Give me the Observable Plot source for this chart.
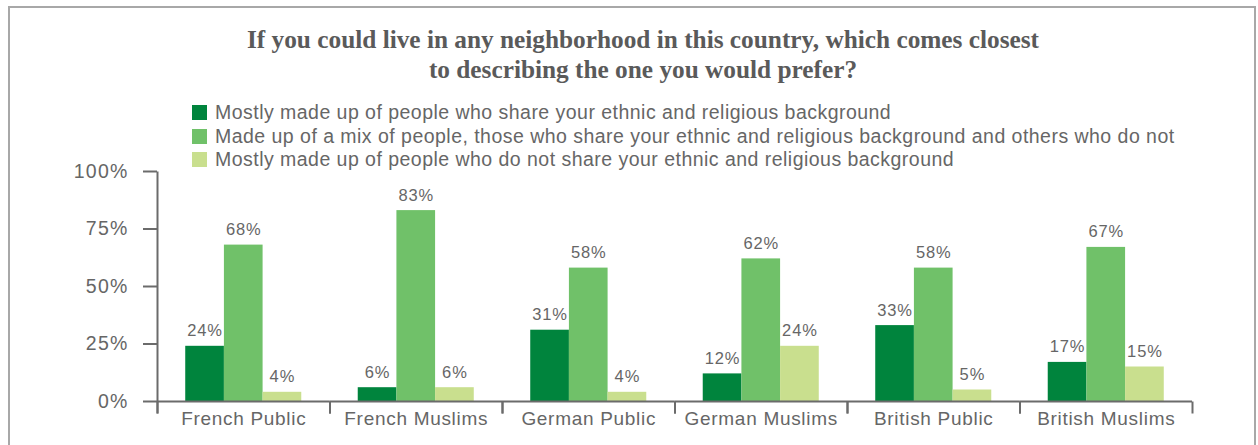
<!DOCTYPE html>
<html><head><meta charset="utf-8">
<script src="https://cdn.jsdelivr.net/npm/d3@7"></script>
<script src="https://cdn.jsdelivr.net/npm/@observablehq/plot@0.6"></script>
<style>
html,body{margin:0;padding:0;background:#fff;overflow:hidden;width:1258px;height:445px;position:relative;}
#frame{position:absolute;left:8px;top:6px;width:1244px;height:470px;border:2px solid #a8a8a8;}
#title{position:absolute;left:0;top:24px;width:1286px;text-align:center;font-family:"Liberation Serif",serif;font-weight:bold;font-size:25.3px;line-height:30px;color:#5a5a5a;}
#legend{position:absolute;left:192px;top:101px;font-family:"Liberation Sans",Arial,sans-serif;font-size:19.5px;color:#666;letter-spacing:0.47px;}
.row{display:flex;align-items:center;height:23.5px;white-space:nowrap;}
.sw{width:15px;height:15px;margin-right:8px;flex:none;}
#chart{position:absolute;left:0;top:150px;}
#chart g[aria-label="y-axis tick label"] text{letter-spacing:1.2px;}
#chart g[aria-label="fx-axis tick label"] text{letter-spacing:0.7px;}
#chart g[aria-label="text"] text{letter-spacing:0.9px;}
</style></head><body>
<div id="frame"></div>
<div id="title">If you could live in any neighborhood in this country, which comes closest<br>to describing the one you would prefer?</div>
<div id="legend"></div>
<div id="chart"></div>
<script>
const categories = ["French Public", "French Muslims", "German Public", "German Muslims", "British Public", "British Muslims"];
const seriesNames = [
  "Mostly made up of people who share your ethnic and religious background",
  "Made up of a mix of people, those who share your ethnic and religious background and others who do not",
  "Mostly made up of people who do not share your ethnic and religious background"
];
const sameBackground = [24, 6, 31, 12, 33, 17];
const mixedBackground = [68, 83, 58, 62, 58, 67];
const otherBackground = [4, 6, 4, 24, 5, 15];
const seriesColors = ["#00843d", "#70c169", "#c9df8e"];
const yTicks = [0, 25, 50, 75, 100];

const seriesValues = [sameBackground, mixedBackground, otherBackground];
const rows = [];
categories.forEach((c, ci) => seriesNames.forEach((s, si) => rows.push({category: c, series: s, value: seriesValues[si][ci]})));

// legend
const legend = document.getElementById("legend");
seriesNames.forEach((s, i) => {
  const row = document.createElement("div"); row.className = "row";
  const sw = document.createElement("span"); sw.className = "sw"; sw.style.background = seriesColors[i];
  const t = document.createElement("span"); t.textContent = s;
  row.appendChild(sw); row.appendChild(t); legend.appendChild(row);
});

const W = 1258, H = 295, mT = 21, mB = 44, mL = 157, mR = 66;
const plotH = H - mT - mB;
const axisColor = "#6b6b6b";

const chart = Plot.plot({
  width: W, height: H,
  marginTop: mT, marginBottom: mB, marginLeft: mL, marginRight: mR,
  style: {background: "transparent", fontFamily: "'Liberation Sans', Arial, sans-serif", color: "#666", overflow: "visible"},
  fx: {domain: categories, padding: 0, round: false, label: null},
  x: {domain: seriesNames, paddingInner: 0, paddingOuter: 0.73, round: false, axis: null},
  y: {domain: [0, 100], axis: null},
  color: {domain: seriesNames, range: seriesColors},
  marks: [
    Plot.barY(rows, {fx: "category", x: "series", y: "value", fill: "series"}),
    Plot.text(rows, {fx: "category", x: "series", y: "value", text: d => `${d.value}%`, dy: -10, lineAnchor: "bottom", fill: "#666", fontSize: 16.5}),
    Plot.ruleY([0], {stroke: axisColor, strokeWidth: 2}),
    Plot.frame({anchor: "left", insetTop: plotH, insetBottom: -12, stroke: axisColor, strokeWidth: 2, strokeLinecap: "butt"}),
    Plot.frame({anchor: "right", insetTop: plotH, insetBottom: -12, stroke: axisColor, strokeWidth: 2, strokeLinecap: "butt"}),
    Plot.frame({anchor: "left", facet: "super", insetBottom: -12, stroke: axisColor, strokeWidth: 2, strokeLinecap: "butt"}),
    Plot.axisY({ticks: yTicks, tickFormat: d => `${d}%`, tickSize: 14, tickPadding: 15, fontSize: 19.5, stroke: axisColor, strokeWidth: 2, fill: "#666", label: null}),
    Plot.axisFx({anchor: "bottom", tickSize: 0, tickPadding: 10, fontSize: 19, fill: "#666", label: null})
  ]
});
document.getElementById("chart").appendChild(chart);
</script>
</body></html>
